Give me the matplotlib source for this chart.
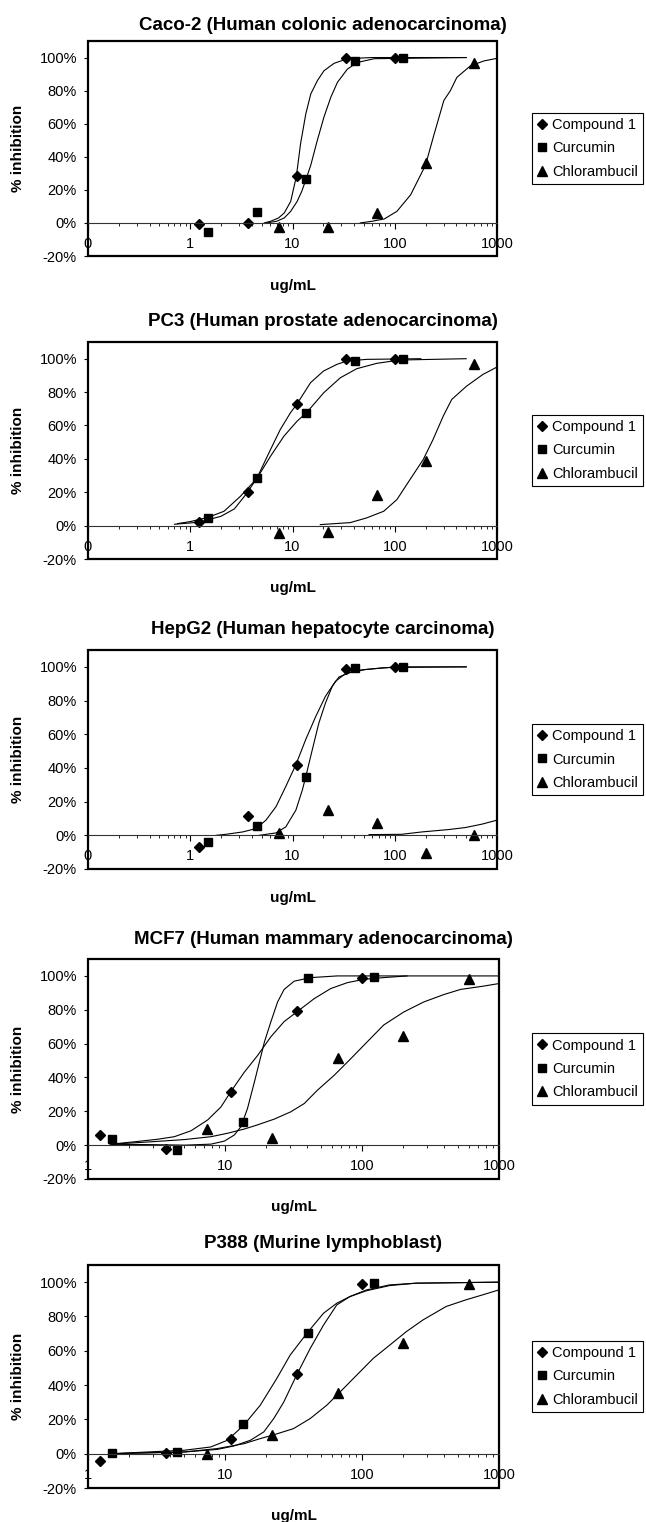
import matplotlib.pyplot as plt
from matplotlib.ticker import FixedLocator, FixedFormatter, LogLocator, NullFormatter

plt.rcParams['font.family'] = ['Liberation Sans', 'DejaVu Sans']

W, H = 646, 1522

titles = ['Caco-2 (Human colonic adenocarcinoma)',
          'PC3 (Human prostate adenocarcinoma)',
          'HepG2 (Human hepatocyte carcinoma)',
          'MCF7 (Human mammary adenocarcinoma)',
          'P388 (Murine lymphoblast)']
series_names = ['Compound 1', 'Curcumin', 'Chlorambucil']

# concentrations (ug/mL)
conc_cmpd1 = [1.23, 3.7, 11.1, 33.3, 100]
conc_curcumin = [1.5, 4.5, 13.5, 40.5, 121.5]
conc_chlor = [7.4, 22.2, 66.7, 200, 600]

# % inhibition, one list per cell line
inhib_cmpd1 = [[-0.6, 0, 28.3, 99.6, 100],
               [2, 20, 73, 100, 100],
               [-7, 11.5, 41.7, 99, 100],
               [5.9, -2.4, 31.5, 79, 99],
               [-4.1, 0.6, 8.4, 46.2, 99]]
inhib_curcumin = [[-5.5, 6.5, 26.3, 98, 99.6],
                  [4.6, 28.4, 67.4, 98.6, 100],
                  [-4, 5.4, 34.8, 99.4, 100],
                  [3.5, -3, 13.8, 98.8, 99.6],
                  [0.4, 1.2, 17.5, 70.6, 99.4]]
inhib_chlor = [[-2.4, -2.4, 5.7, 36, 96.4],
               [-4.2, -3.6, 18.6, 39, 96.6],
               [1.4, 15.3, 7.4, -10.3, 0.4],
               [9.4, 4.5, 51.6, 64.6, 98.4],
               [-0.4, 11.1, 35.5, 64.3, 98.8]]

# fitted curves, points
fit_cmpd1_x = [[5.3, 6.1, 7.3, 8.3, 9.6, 10.9, 12.0, 13.5, 15.1, 17.5, 20.3, 25.5, 34.4, 60, 500],
               [0.70, 1.0, 1.25, 2.0, 2.7, 3.6, 4.5, 6.1, 7.6, 9.55, 11.1, 15, 20.1, 27.2, 34, 53, 180],
               [1.79, 2.24, 3.26, 4.39, 5.5, 6.9, 8.6, 10.8, 13.5, 16.9, 21, 26.4, 33, 44.5, 75, 117, 500],
               [1.48, 2.19, 3.23, 4.27, 5.65, 7.5, 9.35, 11.0, 13.8, 17.3, 21.6, 27, 33.8, 44.8, 59, 78, 103, 144, 213],
               [1.48, 5.03, 8.8, 11.6, 15.3, 19.2, 22.7, 26.8, 33.4, 41.9, 52.4, 65.4, 81.6, 108, 159, 248, 1000]]
fit_cmpd1_y = [[0, 1, 3, 6, 13, 28, 48, 66, 78, 86, 92, 96.5, 99.3, 100, 100],
               [0.8, 1.6, 2.2, 5.6, 10, 19.6, 28.6, 45.6, 57.6, 67.6, 73, 85.6, 92.6, 96.6, 98.6, 99.6, 100],
               [0, 0.6, 2, 4, 9, 17, 29, 42, 57, 70.6, 82.5, 91.5, 96, 98, 99.4, 100, 100],
               [0.6, 2, 3.5, 5, 8.5, 15, 22.6, 31.5, 43, 53, 64, 73, 79, 86.6, 92.5, 96, 98, 99, 100],
               [0, 1, 2.5, 4.5, 7.8, 12.7, 20.5, 30, 46, 61.4, 75, 86.7, 91.6, 95.5, 98.4, 99.4, 100]]
fit_curcumin_x = [[5.6, 7.0, 8.3, 9.6, 11.1, 12.3, 13.5, 15.1, 17.5, 20.3, 23.7, 27.5, 34.4, 43, 63, 500],
                  [0.75, 1.0, 1.5, 2.14, 3.1, 4.5, 6.1, 8.25, 11.1, 13.7, 20.2, 29.4, 42.5, 66.5, 112, 500],
                  [4.74, 6.88, 8.6, 10.8, 12.5, 13.5, 15.6, 18.1, 21, 24.5, 28.5, 35.7, 51.5, 87.5, 500],
                  [1.5, 3.0, 5.06, 7.9, 9.9, 11.7, 13.1, 14.6, 16.4, 19.4, 21.6, 24.2, 27, 32, 42.3, 66, 1000],
                  [1.48, 5.03, 7.85, 10.4, 13.7, 18.1, 23.9, 29.9, 39.6, 52.4, 65.4, 81.6, 108, 159, 248, 1000]]
fit_curcumin_y = [[0, 1, 3, 7, 13, 19, 26, 35, 50, 64, 76, 85, 93, 97, 99.3, 100],
                  [1.2, 2.4, 5, 8.6, 17.6, 28.4, 41.6, 53.6, 62.6, 67.6, 79.6, 88.6, 94, 97.2, 99.2, 100],
                  [0, 1.4, 5, 15, 27, 35, 50.7, 66.6, 78.5, 88.5, 94, 96.4, 98.4, 99.6, 100],
                  [0.5, 0.3, 0, 0.6, 2.4, 6, 11, 21.7, 37.4, 61, 72.8, 84.6, 92, 96.9, 99, 100, 100],
                  [0, 2, 3.9, 7.8, 16.6, 28.3, 43.9, 57.5, 70.2, 81.9, 87.7, 91.6, 95, 98, 99.4, 100]]
fit_chlor_x = [[46, 60, 79, 105, 143, 179, 200, 241, 302, 350, 405, 550, 750, 1000],
               [18.7, 36.7, 53, 78, 105, 141, 190, 237, 298, 361, 505, 730, 1000],
               [56, 117, 184, 335, 490, 710, 1000],
               [1.45, 2.9, 5.06, 7.9, 10.4, 13.8, 17.3, 22.9, 30.2, 37.9, 47.3, 62.7, 82.6, 109, 144, 202, 282, 396, 523, 775, 1000],
               [1.48, 5.03, 8.8, 13.7, 18.1, 22.7, 31.6, 41.9, 55.4, 69.2, 91.5, 121, 160, 211, 279, 411, 574, 760, 1000]]
fit_chlor_y = [[0, 1, 2.4, 7, 17, 29, 35, 53, 74, 80, 88, 95, 98, 99.5],
               [0.6, 1.8, 4.6, 8.6, 15.6, 27.6, 39.6, 51.6, 65.6, 75.6, 83.6, 90.6, 95],
               [0.4, 0.6, 2, 3.4, 4.6, 6.6, 9],
               [0.5, 2, 3.3, 5, 7, 9.5, 12, 15.4, 19.7, 24.6, 32.5, 41.3, 51, 61, 71, 78.7, 84.6, 89, 92, 94, 95.5],
               [0, 1, 3, 5.8, 8.8, 11, 14.6, 20.5, 28.3, 36, 45.8, 55.6, 63.4, 71.2, 78, 85.8, 89.7, 92.6, 95.5]]

y_ticks = [-20, 0, 20, 40, 60, 80, 100]
x_min = [0.1, 0.1, 0.1, 1, 1]

# layout in pixels: left, top, right, bottom of each plot area
boxes = [(88, 41, 497, 256), (88, 342, 497, 559), (88, 650, 497, 869),
         (88, 959, 499, 1179), (88, 1265, 499, 1488)]
title_y = [25, 322, 629, 940, 1243]
xlabel_y = [286, 588, 898, 1207, 1516]

fig = plt.figure(figsize=(W / 100, H / 100), dpi=100)

for i in range(5):
    l, t, r, b = boxes[i]
    ax = fig.add_axes([l / W, 1 - b / H, (r - l) / W, (b - t) / H])
    ax.set_xscale('log')
    ax.set_xlim(x_min[i], 1000)
    ax.set_ylim(-20, 110)

    ax.plot(fit_cmpd1_x[i], fit_cmpd1_y[i], color='black', lw=0.8)
    ax.plot(fit_curcumin_x[i], fit_curcumin_y[i], color='black', lw=0.8)
    ax.plot(fit_chlor_x[i], fit_chlor_y[i], color='black', lw=0.8)

    ax.plot(conc_cmpd1, inhib_cmpd1[i], 'D', ms=5, color='black', label=series_names[0], clip_on=False)
    ax.plot(conc_curcumin, inhib_curcumin[i], 's', ms=6.3, color='black', label=series_names[1], clip_on=False)
    ax.plot(conc_chlor, inhib_chlor[i], '^', ms=7, color='black', label=series_names[2], clip_on=False)

    # frame + x axis crossing at 0%
    for s in ['left', 'right', 'top']:
        ax.spines[s].set_visible(False)
    ax.spines['bottom'].set_position(('data', 0))
    ax.spines['bottom'].set_color('#333333')
    ax.spines['bottom'].set_linewidth(0.8)
    ax.patch.set_edgecolor('black')
    ax.patch.set_linewidth(1.6)

    ax.set_yticks(y_ticks)
    ax.set_yticklabels([f'{v}%' for v in y_ticks])
    ax.tick_params(axis='y', direction='out', length=3, width=0.8, pad=5, labelsize=10.5)

    majors = [v for v in [0.1, 1, 10, 100, 1000] if v >= x_min[i]]
    ax.xaxis.set_major_locator(FixedLocator(majors))
    ax.xaxis.set_major_formatter(FixedFormatter([f'{v:.0f}' for v in majors]))
    ax.xaxis.set_minor_locator(LogLocator(base=10, subs=range(2, 10)))
    ax.xaxis.set_minor_formatter(NullFormatter())
    ax.tick_params(axis='x', which='major', direction='out', length=4, width=0.8, pad=6, labelsize=10.5)
    ax.tick_params(axis='x', which='minor', direction='out', length=2.5, width=0.6)

    leg = ax.legend(loc='center left', bbox_to_anchor=((532 - l) / (r - l), 0.5),
                    fancybox=False, framealpha=1, edgecolor='black', fontsize=10.5,
                    handlelength=0.7, handletextpad=0.35, borderpad=0.35,
                    labelspacing=0.65, borderaxespad=0)
    leg.get_frame().set_linewidth(0.8)

    fig.text(0.5, 1 - title_y[i] / H, titles[i], ha='center', va='center',
             fontsize=13.5, fontweight='bold')
    fig.text((l + r) / 2 / W, 1 - xlabel_y[i] / H, 'ug/mL', ha='center', va='center',
             fontsize=11, fontweight='bold')
    fig.text(18.5 / W, 1 - (t + b) / 2 / H, '% inhibition', ha='center', va='center',
             rotation=90, fontsize=11, fontweight='bold')

fig.savefig('out.png', dpi=100)
